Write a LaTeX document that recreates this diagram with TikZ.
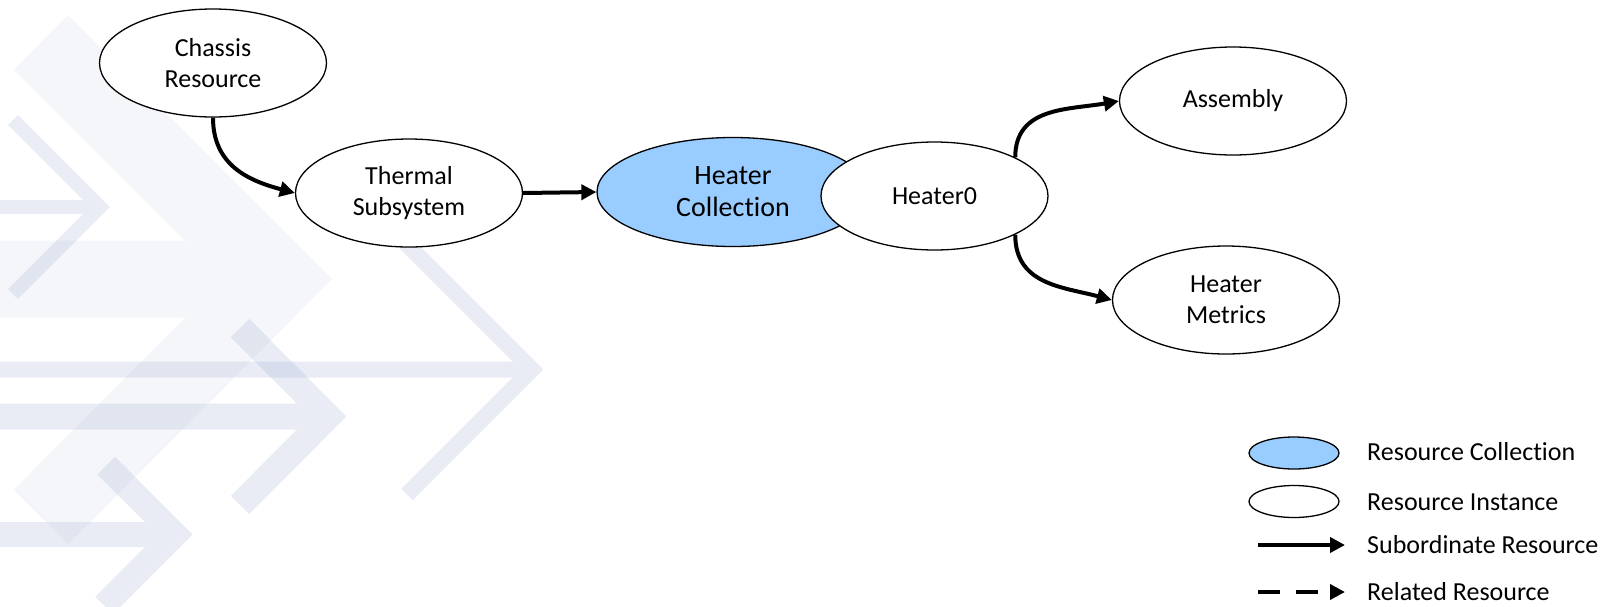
\documentclass[tikz,border=0pt]{standalone}
\usepackage{fontspec}
\setmainfont{Carlito}[Ligatures={NoCommon}]
\usetikzlibrary{shapes.geometric,arrows.meta}
\definecolor{wm}{RGB}{150,165,205}
\definecolor{collblue}{RGB}{153,204,255}
\begin{document}
\begin{tikzpicture}[x=1pt,y=-1pt,
  res/.style={ellipse,draw=black,line width=1.3pt,fill=white,inner sep=0pt,
    minimum width=227pt,minimum height=108pt,align=center,
    font=\fontsize{26}{31}\selectfont},
  coll/.style={res,fill=collblue,minimum width=272pt,minimum height=109pt,
    font=\fontsize{28}{32}\selectfont},
  sub/.style={line width=4pt,-{Triangle[length=15pt,width=15pt]}},
  wmark/.style={draw=wm,draw opacity=0.21,line join=miter,line cap=butt},
  legell/.style={ellipse,draw=black,line width=1.3pt,inner sep=0pt,
    minimum width=90pt,minimum height=32pt},
  leg/.style={anchor=west,font=\fontsize{26}{30}\selectfont,inner sep=0pt}
]
\useasboundingbox (0,0) rectangle (1614,606);
\clip (0,0) rectangle (1614,606);
% watermark
\draw[wmark,draw opacity=0.10,line width=77pt]
  (0,279) -- (270,279) (41,42.5) -- (278,279) -- (41,517);
\draw[wmark,line width=14pt]
  (0,207) -- (95,207) (13,120) -- (100,207) -- (13,294);
\draw[wmark,line width=26pt]
  (0,416.5) -- (320,416.5) (240,328) -- (328,416.5) -- (240,505);
\draw[wmark,line width=16pt]
  (0,369.5) -- (525,369.5) (400,237.5) -- (532,369.5) -- (407,494.5);
\draw[wmark,line width=25pt]
  (0,534.5) -- (170,534.5) (106,465.5) -- (175,534.5) -- (104,605.5);
% nodes
\node[res] (ch) at (213,63) {Chassis\\Resource};
\node[res] (th) at (409,193) {Thermal\\Subsystem};
\node[coll] (hc) at (733,192) {Heater\\Collection};
\node[res] (h0) at (934.5,196) {Heater0};
\node[res] (as) at (1233,101) {Assembly};
\node[res] (hm) at (1226,300) {Heater\\Metrics};
% connectors
\draw[sub] (ch.south) to[out=-90,in=165,looseness=1.1] (th.west);
\draw[sub] (th.east) -- (hc.west);
\draw[sub] (h0.north east) to[out=90,in=190,looseness=1.1] (as.west);
\draw[sub] (h0.south east) to[out=-90,in=165,looseness=1.1] (hm.west);
% legend
\node[legell,fill=collblue] (lc) at (1294,453) {};
\node[legell,fill=white] (li) at (1294,501.5) {};
\node[leg] (tc) at (1367,452) {Resource Collection};
\node[leg] (ti) at (1367,502) {Resource Instance};
\node[leg] (ts) at (1367,545) {Subordinate Resource};
\node[leg] (tr) at (1367,592) {Related Resource};
\coordinate (s1) at (1258,545);
\coordinate (s2) at (1345,545);
\coordinate (r1) at (1258,592);
\coordinate (r2) at (1345,592);
\draw[sub] (s1) -- (s2);
\draw[sub,dash pattern=on 22pt off 16pt] (r1) -- (r2);
\end{tikzpicture}
\end{document}
